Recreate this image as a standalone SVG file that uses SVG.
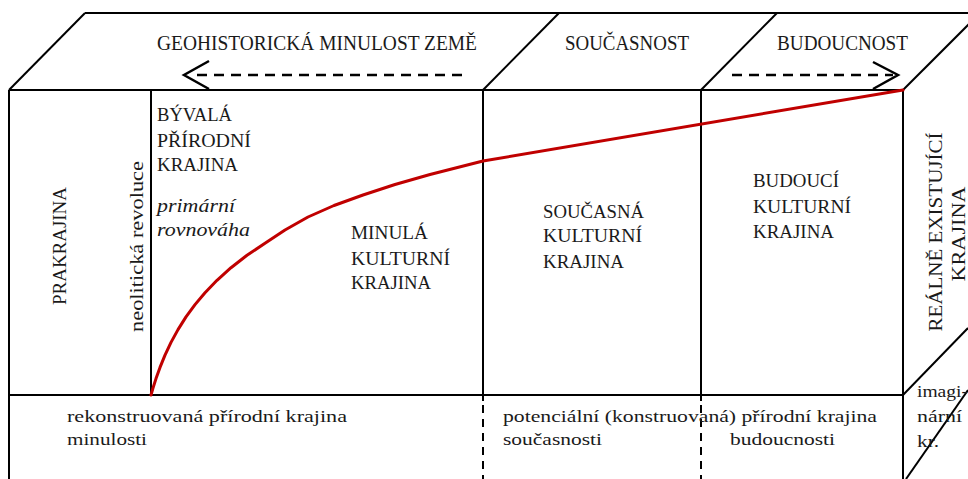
<svg xmlns="http://www.w3.org/2000/svg" width="968" height="479" viewBox="0 0 968 479">
<style>
  .ln{stroke:#000;stroke-width:2;fill:none}
  .dash{stroke:#000;stroke-width:2;fill:none;stroke-dasharray:8,6}
  .arr{stroke:#000;stroke-width:2.5;fill:none;stroke-dasharray:10,7}
  .head{stroke:#000;stroke-width:2.5;fill:none}
  .red{stroke:#c00000;stroke-width:3;fill:none;stroke-linecap:round;stroke-linejoin:round}
  text{font-family:"Liberation Serif","Times New Roman",serif;fill:#1a1a1a}
  .h{font-size:22px}
  .b{font-size:19px}
  .s{font-size:17.5px}
  .i{font-size:19px;font-style:italic}
</style>
<rect width="968" height="479" fill="#fff"/>
<g id="frame">
  <line class="ln" x1="85" y1="13" x2="968" y2="13"/>
  <line class="ln" x1="9" y1="90" x2="85" y2="13"/>
  <line class="ln" x1="483" y1="90" x2="559" y2="13"/>
  <line class="ln" x1="701" y1="90" x2="777" y2="13"/>
  <line class="ln" x1="903" y1="90" x2="980" y2="13"/>
  <line class="ln" x1="9" y1="90" x2="903" y2="90"/>
  <line class="ln" x1="9" y1="90" x2="9" y2="479"/>
  <line class="ln" x1="903" y1="90" x2="903" y2="479"/>
  <line class="ln" x1="9" y1="395" x2="903" y2="395"/>
  <line class="ln" x1="151" y1="90" x2="151" y2="395"/>
  <line class="ln" x1="483" y1="90" x2="483" y2="401"/>
  <line class="ln" x1="701" y1="90" x2="701" y2="401"/>
  <line class="dash" x1="483" y1="405" x2="483" y2="479"/>
  <line class="dash" x1="701" y1="405" x2="701" y2="479"/>
  <line class="ln" x1="903" y1="395" x2="968" y2="328"/>
  <line class="ln" x1="906" y1="479" x2="968" y2="390"/>
</g>
<g id="connectors">
  <line class="arr" x1="462" y1="75" x2="190" y2="75"/>
  <polyline class="head" points="209,61 184,75 209,89"/>
  <line class="arr" x1="732" y1="75" x2="893" y2="75"/>
  <polyline class="head" points="873,62 898,75 873,89"/>
  <polyline class="red" points="151,395 153,388 156,378.6 160,367.4 165,355.1 171,342.4 178,329.6 186,316.9 195,304.6 205,292.7 217,280.3 231,267.7 247,255.3 265,243.2 285,230 308,217 334,205.5 363,195 395,184.5 430,174.5 483,161 903,90"/>
</g>
<g id="header-past"><text class="h" x="157" y="50" textLength="320" lengthAdjust="spacingAndGlyphs">GEOHISTORICKÁ MINULOST ZEMĚ</text></g>
<g id="header-present"><text class="h" x="565" y="50" textLength="124" lengthAdjust="spacingAndGlyphs">SOUČASNOST</text></g>
<g id="header-future"><text class="h" x="777" y="50" textLength="131" lengthAdjust="spacingAndGlyphs">BUDOUCNOST</text></g>
<g id="prakrajina"><text class="b" transform="translate(66,246) rotate(-90)" text-anchor="middle" textLength="118" lengthAdjust="spacingAndGlyphs">PRAKRAJINA</text></g>
<g id="neolit"><text class="b" transform="translate(143,246.5) rotate(-90)" text-anchor="middle" textLength="171" lengthAdjust="spacingAndGlyphs">neolitická revoluce</text></g>
<g id="byvala">
  <text class="b" x="157" y="121" textLength="75" lengthAdjust="spacingAndGlyphs">BÝVALÁ</text>
  <text class="b" x="157" y="147" textLength="94" lengthAdjust="spacingAndGlyphs">PŘÍRODNÍ</text>
  <text class="b" x="157" y="171" textLength="81" lengthAdjust="spacingAndGlyphs">KRAJINA</text>
  <text class="i" x="157" y="212" textLength="78" lengthAdjust="spacingAndGlyphs">primární</text>
  <text class="i" x="157" y="236" textLength="93" lengthAdjust="spacingAndGlyphs">rovnováha</text>
</g>
<g id="minula">
  <text class="b" x="351" y="239" textLength="77" lengthAdjust="spacingAndGlyphs">MINULÁ</text>
  <text class="b" x="351" y="265" textLength="99" lengthAdjust="spacingAndGlyphs">KULTURNÍ</text>
  <text class="b" x="351" y="289" textLength="80" lengthAdjust="spacingAndGlyphs">KRAJINA</text>
</g>
<g id="soucasna">
  <text class="b" x="543" y="218" textLength="101" lengthAdjust="spacingAndGlyphs">SOUČASNÁ</text>
  <text class="b" x="543" y="242" textLength="99" lengthAdjust="spacingAndGlyphs">KULTURNÍ</text>
  <text class="b" x="543" y="268" textLength="81" lengthAdjust="spacingAndGlyphs">KRAJINA</text>
</g>
<g id="budouci">
  <text class="b" x="753" y="187" textLength="86" lengthAdjust="spacingAndGlyphs">BUDOUCÍ</text>
  <text class="b" x="753" y="213" textLength="98" lengthAdjust="spacingAndGlyphs">KULTURNÍ</text>
  <text class="b" x="753" y="238" textLength="81" lengthAdjust="spacingAndGlyphs">KRAJINA</text>
</g>
<g id="realne">
  <text class="b" transform="translate(942,232) rotate(-90)" text-anchor="middle" textLength="199" lengthAdjust="spacingAndGlyphs">REÁLNĚ EXISTUJÍCÍ</text>
  <text class="b" transform="translate(965,234) rotate(-90)" text-anchor="middle" textLength="95" lengthAdjust="spacingAndGlyphs">KRAJINA</text>
</g>
<g id="rekonstruovana">
  <text class="s" x="67" y="422" textLength="280" lengthAdjust="spacingAndGlyphs">rekonstruovaná přírodní krajina</text>
  <text class="s" x="67" y="445" textLength="80" lengthAdjust="spacingAndGlyphs">minulosti</text>
</g>
<g id="potencialni">
  <text class="s" x="503" y="422" textLength="374" lengthAdjust="spacingAndGlyphs">potenciální (konstruovaná) přírodní krajina</text>
  <text class="s" x="503" y="445" textLength="99" lengthAdjust="spacingAndGlyphs">současnosti</text>
  <text class="s" x="730" y="445" textLength="105" lengthAdjust="spacingAndGlyphs">budoucnosti</text>
</g>
<g id="imaginarni">
  <text class="s" x="917" y="397" textLength="51" lengthAdjust="spacingAndGlyphs">imagi-</text>
  <text class="s" x="917" y="422" textLength="45" lengthAdjust="spacingAndGlyphs">nární</text>
  <text class="s" x="917" y="447" textLength="22" lengthAdjust="spacingAndGlyphs">kr.</text>
</g>
</svg>
